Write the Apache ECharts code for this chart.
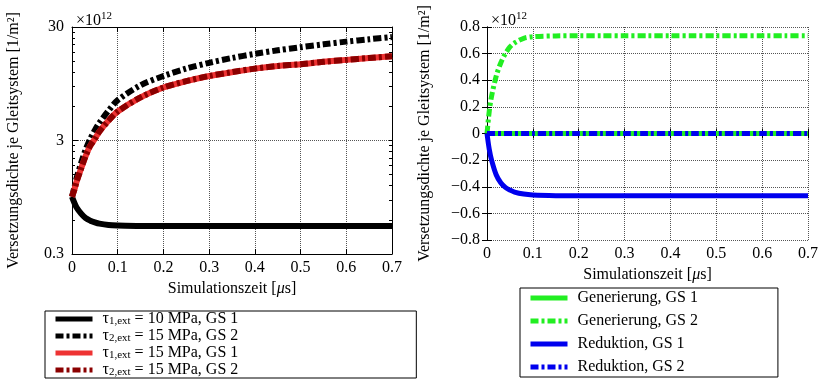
<!DOCTYPE html>
<html><head><meta charset="utf-8">
<script src="https://cdn.jsdelivr.net/npm/echarts@6/dist/echarts.min.js"></script>
<style>html,body{margin:0;padding:0;background:#fff}#c{width:823px;height:379px}</style>
</head><body><div id="c"></div>
<script>
const FONT = "'Liberation Serif', 'DejaVu Serif', serif";
// time axis in microseconds
const time = [0, 0.005, 0.01, 0.02, 0.03, 0.04, 0.05, 0.06, 0.08, 0.1, 0.15, 0.2, 0.25, 0.3, 0.35, 0.4, 0.45, 0.5, 0.55, 0.6, 0.65, 0.7];
// left chart (x 1e12 1/m^2, log axis)
const tau10GS1 = [0.96, 0.85, 0.77, 0.68, 0.62, 0.59, 0.57, 0.555, 0.54, 0.535, 0.53, 0.53, 0.53, 0.53, 0.53, 0.53, 0.53, 0.53, 0.53, 0.53, 0.53, 0.53];
const tau15GS2black = [0.96, 1.15, 1.4, 1.9, 2.5, 3.1, 3.7, 4.3, 5.5, 6.8, 9.2, 11.1, 12.9, 14.5, 16.0, 17.4, 18.7, 19.9, 21.1, 22.3, 23.4, 24.5];
const tau15GS1 = [0.96, 1.1, 1.3, 1.7, 2.2, 2.7, 3.1, 3.6, 4.5, 5.4, 7.2, 8.8, 10.0, 11.1, 12.0, 12.9, 13.6, 14.1, 14.8, 15.4, 16.0, 16.6];
const tau15GS2red = [0.96, 1.1, 1.3, 1.7, 2.2, 2.7, 3.1, 3.6, 4.5, 5.4, 7.2, 8.8, 10.0, 11.1, 12.0, 12.9, 13.6, 14.1, 14.8, 15.4, 16.0, 16.6];
// right chart (x 1e12 1/m^2)
const genGS1 = [0, 0, 0, 0, 0, 0, 0, 0, 0, 0, 0, 0, 0, 0, 0, 0, 0, 0, 0, 0, 0, 0];
const genGS2 = [0, 0.17, 0.28, 0.43, 0.53, 0.6, 0.65, 0.68, 0.715, 0.727, 0.733, 0.735, 0.735, 0.735, 0.735, 0.735, 0.735, 0.735, 0.735, 0.735, 0.735, 0.735];
const redGS1 = [0, -0.12, -0.2, -0.31, -0.37, -0.405, -0.425, -0.44, -0.455, -0.462, -0.467, -0.468, -0.468, -0.468, -0.468, -0.468, -0.468, -0.468, -0.468, -0.468, -0.468, -0.468];
const redGS2 = [0, 0, 0, 0, 0, 0, 0, 0, 0, 0, 0, 0, 0, 0, 0, 0, 0, 0, 0, 0, 0, 0];
// tick labels
const leftYLabels = [0.3, 3, 30];
const leftYMinor = [0.3, 0.6, 0.9, 1.2, 1.5, 1.8, 2.1, 2.4, 2.7, 3, 6, 9, 12, 15, 18, 21, 24, 27, 30];

const pts = arr => time.map((t, i) => [t, arr[i]]);
const dd = [8, 3, 3, 3];
const txt = {fontFamily: FONT, color: '#000', fontWeight: 'normal'};
const xFmt = v => v === 0 ? '0' : v.toFixed(1);
const yFmtR = v => v === 0 ? '0' : (v < 0 ? '\u2212' + (-v).toFixed(1) : v.toFixed(1));
const lineAx = {show: true, lineStyle: {color: '#000', width: 1}};
const grid = {type: 'dotted', color: '#555', width: 1};

function xAx(g, pos, labels) {
  return {
    gridIndex: g, type: 'value', position: pos, min: 0, max: 0.7, interval: 0.1,
    axisLine: lineAx, axisTick: {show: true, inside: true, length: 5, lineStyle: {color: '#000'}},
    axisLabel: {show: labels, ...txt, fontSize: 16, margin: 6, formatter: xFmt},
    splitLine: {show: labels, lineStyle: grid},
    name: labels ? 'Simulationszeit [{i|\u03bc}s]' : '', nameLocation: 'middle', nameGap: 27,
    nameTextStyle: {...txt, fontSize: 16, rich: {i: {...txt, fontSize: 16, fontStyle: 'italic'}}}
  };
}
const yName = 'Versetzungsdichte je Gleitsystem [1/m\u00b2]';
const expTitle = x => ({text: '{a|\u00d710}{b|12}', left: x, top: 6, textStyle: {...txt, rich: {a: {...txt, fontSize: 16, lineHeight: 20, verticalAlign: 'middle'}, b: {...txt, fontSize: 11, lineHeight: 11, verticalAlign: 'top'}}}});

const option = {
  animation: false,
  backgroundColor: '#fff',
  textStyle: {fontFamily: FONT},
  title: [expTitle(71), expTitle(486)],
  grid: [
    {left: 72, right: 431, top: 27, bottom: 125},
    {left: 487, right: 15, top: 27, bottom: 139}
  ],
  xAxis: [xAx(0, 'bottom', true), xAx(0, 'top', false), xAx(1, 'bottom', true), xAx(1, 'top', false)],
  yAxis: [
    {gridIndex: 0, type: 'log', position: 'left', min: 0.3, max: 30,
     axisLine: lineAx,
     axisTick: {show: true, inside: true, length: 3, customValues: leftYMinor, lineStyle: {color: '#000'}},
     axisLabel: {...txt, fontSize: 16, margin: 8, customValues: leftYLabels, formatter: v => String(+v.toPrecision(3))},
     splitLine: {show: false},
     name: yName, nameLocation: 'middle', nameGap: 50, nameTextStyle: {...txt, fontSize: 16}},
    {gridIndex: 0, type: 'log', position: 'left', min: 0.3, max: 30,
     axisLine: {show: false},
     axisTick: {show: true, inside: true, length: 6, customValues: [3], lineStyle: {color: '#000'}},
     axisLabel: {show: false},
     splitLine: {show: true, lineStyle: grid}},
    {gridIndex: 0, type: 'log', position: 'right', min: 0.3, max: 30,
     axisLine: lineAx,
     axisTick: {show: true, inside: true, length: 3, customValues: leftYMinor, lineStyle: {color: '#000'}},
     axisLabel: {show: false}, splitLine: {show: false}},
    {gridIndex: 1, type: 'value', position: 'left', min: -0.8, max: 0.8, interval: 0.2,
     axisLine: lineAx,
     axisTick: {show: true, inside: true, length: 5, lineStyle: {color: '#000'}},
     axisLabel: {...txt, fontSize: 16, margin: 7, formatter: yFmtR},
     splitLine: {show: true, lineStyle: grid},
     name: yName, nameLocation: 'middle', nameGap: 54, nameTextStyle: {...txt, fontSize: 16}},
    {gridIndex: 1, type: 'value', position: 'right', min: -0.8, max: 0.8, interval: 0.2,
     axisLine: lineAx,
     axisTick: {show: true, inside: true, length: 5, lineStyle: {color: '#000'}},
     axisLabel: {show: false}, splitLine: {show: false}}
  ],
  legend: [
    {orient: 'vertical', left: 45, top: 311, bottom: 0, itemWidth: 37, itemHeight: 14, itemGap: 1,
     padding: [0, 178, 0, 8], borderColor: '#000', borderWidth: 1,
     itemStyle: {opacity: 0}, lineStyle: {width: 5},
     data: ['t1_10_1', 't2_15_2', 't1_15_1', 't2_15_2r'],
     formatter: n => ({
       t1_10_1: '{t|\u03c4}{s|1,ext}{t| = 10 MPa, GS 1}',
       t2_15_2: '{t|\u03c4}{s|2,ext}{t| = 15 MPa, GS 2}',
       t1_15_1: '{t|\u03c4}{s|1,ext}{t| = 15 MPa, GS 1}',
       t2_15_2r: '{t|\u03c4}{s|2,ext}{t| = 15 MPa, GS 2}'
     })[n],
     textStyle: {...txt, fontSize: 16, padding: [0, 0, 0, 5], rich: {
       t: {...txt, fontSize: 16, lineHeight: 16, verticalAlign: 'middle'},
       s: {...txt, fontSize: 11, lineHeight: 11, verticalAlign: 'bottom'}
     }}},
    {orient: 'vertical', left: 520, top: 288, bottom: 0, itemWidth: 37, itemHeight: 14, itemGap: 7,
     padding: [2, 80, 2, 8], borderColor: '#000', borderWidth: 1,
     itemStyle: {opacity: 0}, lineStyle: {width: 5},
     data: ['Generierung, GS 1', 'Generierung, GS 2', 'Reduktion, GS 1', 'Reduktion, GS 2'],
     textStyle: {...txt, fontSize: 16, padding: [0, 0, 0, 5]}}
  ],
  series: [
    {name: 't1_10_1', type: 'line', xAxisIndex: 0, yAxisIndex: 0, data: pts(tau10GS1), showSymbol: false, symbol: 'none', smooth: 0.3, lineStyle: {color: '#000', width: 6}, itemStyle: {color: '#000'}},
    {name: 't2_15_2', type: 'line', xAxisIndex: 0, yAxisIndex: 0, data: pts(tau15GS2black), showSymbol: false, symbol: 'none', smooth: 0.3, lineStyle: {color: '#000', width: 6, type: dd}, itemStyle: {color: '#000'}},
    {name: 't1_15_1', type: 'line', xAxisIndex: 0, yAxisIndex: 0, data: pts(tau15GS1), showSymbol: false, symbol: 'none', smooth: 0.3, lineStyle: {color: '#ee3333', width: 6}, itemStyle: {color: '#ee3333'}},
    {name: 't2_15_2r', type: 'line', xAxisIndex: 0, yAxisIndex: 0, data: pts(tau15GS2red), showSymbol: false, symbol: 'none', smooth: 0.3, lineStyle: {color: '#8b0000', width: 6, type: dd}, itemStyle: {color: '#8b0000'}},
    {name: 'Generierung, GS 1', type: 'line', xAxisIndex: 2, yAxisIndex: 3, data: pts(genGS1), showSymbol: false, symbol: 'none', smooth: 0.3, lineStyle: {color: '#22ee22', width: 5}, itemStyle: {color: '#22ee22'}},
    {name: 'Generierung, GS 2', type: 'line', xAxisIndex: 2, yAxisIndex: 3, data: pts(genGS2), showSymbol: false, symbol: 'none', smooth: 0.3, lineStyle: {color: '#22ee22', width: 5, type: dd}, itemStyle: {color: '#22ee22'}},
    {name: 'Reduktion, GS 1', type: 'line', xAxisIndex: 2, yAxisIndex: 3, data: pts(redGS1), showSymbol: false, symbol: 'none', smooth: 0.3, lineStyle: {color: '#0000ee', width: 5}, itemStyle: {color: '#0000ee'}},
    {name: 'Reduktion, GS 2', type: 'line', xAxisIndex: 2, yAxisIndex: 3, data: pts(redGS2), showSymbol: false, symbol: 'none', smooth: 0.3, lineStyle: {color: '#0000ee', width: 5, type: dd}, itemStyle: {color: '#0000ee'}}
  ]
};
const chart = echarts.init(document.getElementById('c'), null, {renderer: 'canvas'});
chart.setOption(option);
</script></body></html>
